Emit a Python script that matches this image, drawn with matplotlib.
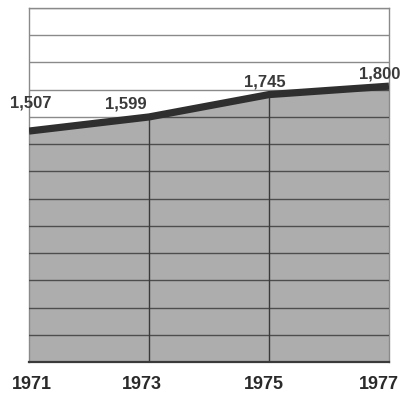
import numpy as np
import matplotlib.pyplot as plt

years = [1971, 1973, 1975, 1977]
values = [1507, 1599, 1745, 1800]
value_labels = ["1,507", "1,599", "1,745", "1,800"]
year_labels = ["1971", "1973", "1975", "1977"]

# label nudges in points (x, y)
value_offsets = [(1, 20), (-17, 9), (-3, 9), (-7, 9)]
year_offsets = [(2, 0), (-5, 0), (-4, 0), (-7, 0)]

plt.rcParams["font.family"] = ["Liberation Sans", "DejaVu Sans"]

fig = plt.figure(figsize=(4.01, 3.94), dpi=100)
ax = fig.add_axes([0.0723, 0.0812, 0.8977, 0.8985])

ymax = 2310
ax.set_xlim(years[0], years[-1])
ax.set_ylim(0, ymax)

# ruled background, darker where the shaded area covers it
grid = np.linspace(0, ymax, 14)
for g in grid:
    ax.axhline(g, color="#8a8a8a", lw=1.0, zorder=1)

ax.fill_between(years, values, 0, color="#adadad", lw=0, zorder=2)

x_dense = np.linspace(years[0], years[-1], 400)
y_dense = np.interp(x_dense, years, values)
for g in grid[1:-1]:
    mask = y_dense > g
    ax.plot(x_dense[mask], np.full(mask.sum(), g), color="#4d4d4d", lw=1.0, zorder=3)

for x, v in zip(years[1:-1], values[1:-1]):
    ax.vlines(x, 0, v, color="#3a3a3a", lw=1.0, zorder=3)

ax.plot(years, values, color="#2f2f2f", lw=5.2, solid_capstyle="butt", zorder=4)

for x, v, lab, off in zip(years, values, value_labels, value_offsets):
    ax.annotate(lab, (x, v), xytext=off, textcoords="offset points",
                ha="center", va="center", fontsize=12, fontweight="bold",
                color="#3a3a3a", zorder=5, annotation_clip=False)

for x, lab, off in zip(years, year_labels, year_offsets):
    ax.annotate(lab, (x, 0), xytext=(off[0], -16), textcoords="offset points",
                ha="center", va="center", fontsize=13, fontweight="bold",
                color="#2a2a2a", annotation_clip=False)

ax.set_xticks([])
ax.set_yticks([])
for side in ["left", "right", "top"]:
    ax.spines[side].set_color("#8a8a8a")
    ax.spines[side].set_linewidth(1.0)
ax.spines["bottom"].set_color("#3a3a3a")
ax.spines["bottom"].set_linewidth(1.6)

fig.savefig("out.png", dpi=100)
